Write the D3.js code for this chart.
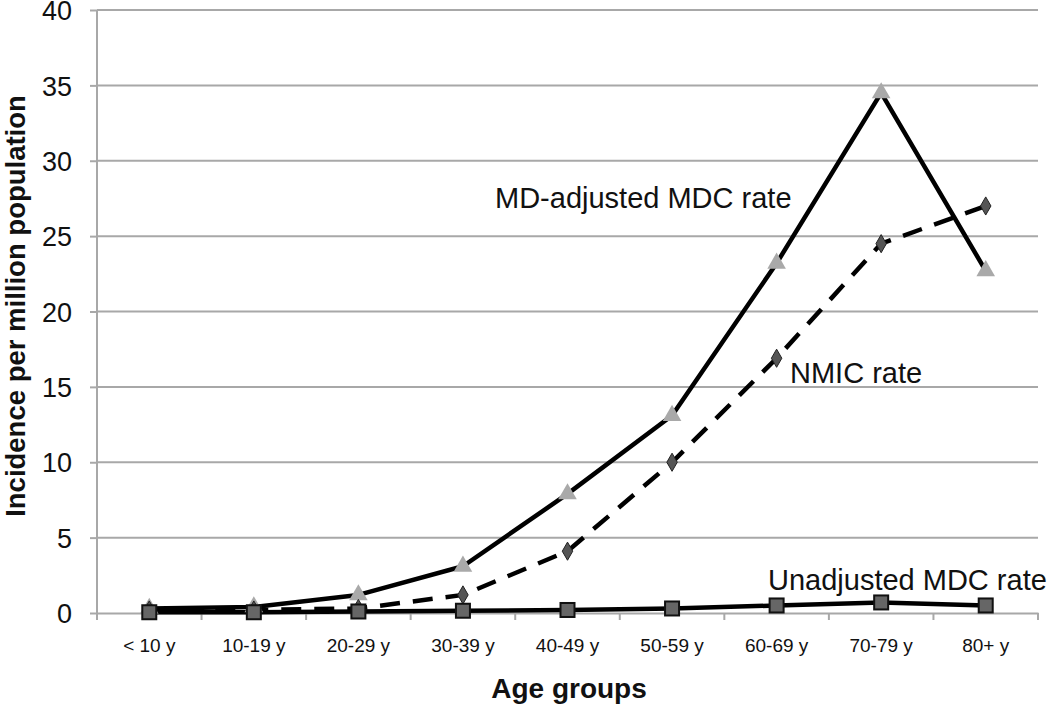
<!DOCTYPE html>
<html><head><meta charset="utf-8">
<script src="https://cdn.jsdelivr.net/npm/d3@7"></script>
<style>body{margin:0;background:#fff}svg{display:block}text{font-family:"Liberation Sans",Arial,sans-serif}</style>
</head><body><svg id="c" width="1050" height="705"></svg>
<script>
const categories = ["< 10 y","10-19 y","20-29 y","30-39 y","40-49 y","50-59 y","60-69 y","70-79 y","80+ y"];
const mdAdjusted = [0.3,0.4,1.2,3.1,7.9,13.1,23.2,34.5,22.7];
const nmic = [0.2,0.2,0.3,1.2,4.1,10.0,16.9,24.5,27.0];
const unadjusted = [0.05,0.05,0.1,0.15,0.2,0.3,0.5,0.7,0.5];
const yTicks = [0,5,10,15,20,25,30,35,40];

const svg = d3.select("#c");
const L=97,R=1038,T=10,B=613;
const x = d3.scaleBand().domain(categories).range([L,R]);
const y = d3.scaleLinear().domain([0,40]).range([B,T]);
const cx = c => x(c)+x.bandwidth()/2;

// gridlines
svg.append("g").selectAll("line").data(yTicks.filter(d=>d>0)).join("line")
 .attr("x1",L).attr("x2",R).attr("y1",d=>y(d)).attr("y2",d=>y(d))
 .attr("stroke","#a8a8a8").attr("stroke-width",2);

// y axis
const ya = svg.append("g").attr("transform",`translate(${L},0)`).call(d3.axisLeft(y).tickValues(yTicks).tickSize(7).tickPadding(18));
ya.select(".domain").attr("stroke","#a8a8a8").attr("stroke-width",2).attr("d",`M-0,${B}V${T}`);
ya.selectAll(".tick line").attr("stroke","#a8a8a8").attr("stroke-width",2);
ya.selectAll(".tick text").attr("font-size",27).attr("fill","#111").attr("dy","0.36em");

// x axis
const xa = svg.append("g").attr("transform",`translate(0,${B})`).call(d3.axisBottom(x).tickSize(0).tickPadding(26));
xa.select(".domain").attr("stroke","#a8a8a8").attr("stroke-width",2);
xa.selectAll(".tick text").attr("font-size",19).attr("fill","#111");
svg.append("g").selectAll("line").data(categories.map((c,i)=>i).concat([categories.length])).join("line")
 .attr("x1",i=>L+i*x.step()).attr("x2",i=>L+i*x.step()).attr("y1",B).attr("y2",B+7)
 .attr("stroke","#a8a8a8").attr("stroke-width",2);

const line = d3.line().x((d,i)=>cx(categories[i])).y(d=>y(d));

// MD-adjusted
svg.append("path").attr("d",line(mdAdjusted)).attr("fill","none").attr("stroke","#000").attr("stroke-width",4.5).attr("stroke-linejoin","round");
// NMIC
svg.append("path").attr("d",line(nmic)).attr("fill","none").attr("stroke","#000").attr("stroke-width",4.5).attr("stroke-dasharray","20,13");
// Unadjusted
svg.append("path").attr("d",line(unadjusted)).attr("fill","none").attr("stroke","#000").attr("stroke-width",4.5);

const tri = d3.symbol().type(d3.symbolTriangle).size(150);
svg.append("g").selectAll("path").data(mdAdjusted).join("path")
 .attr("d",tri).attr("transform",(d,i)=>`translate(${cx(categories[i])},${y(d)})`).attr("fill","#a9a9a9");
const dia = d3.symbol().type(d3.symbolDiamond).size(95);
svg.append("g").selectAll("path").data(nmic).join("path")
 .attr("d",dia).attr("transform",(d,i)=>`translate(${cx(categories[i])},${y(d)})`).attr("fill","#555").attr("stroke","#222").attr("stroke-width",1);
svg.append("g").selectAll("rect").data(unadjusted).join("rect")
 .attr("x",(d,i)=>cx(categories[i])-7).attr("y",d=>y(d)-7).attr("width",14).attr("height",14)
 .attr("fill","#666").attr("stroke","#111").attr("stroke-width",2);

// annotations
svg.append("text").attr("x",495).attr("y",208).attr("font-size",29).attr("fill","#111").text("MD-adjusted MDC rate");
svg.append("text").attr("x",790).attr("y",383).attr("font-size",29).attr("fill","#111").text("NMIC rate");
svg.append("text").attr("x",768).attr("y",590).attr("font-size",29).attr("fill","#111").text("Unadjusted MDC rate");

// axis titles
svg.append("text").attr("transform",`translate(25,306) rotate(-90)`).attr("text-anchor","middle")
 .attr("font-size",27.5).attr("font-weight","bold").attr("fill","#111").text("Incidence per million population");
svg.append("text").attr("x",569).attr("y",698).attr("text-anchor","middle")
 .attr("font-size",28).attr("font-weight","bold").attr("fill","#111").text("Age groups");
</script></body></html>
